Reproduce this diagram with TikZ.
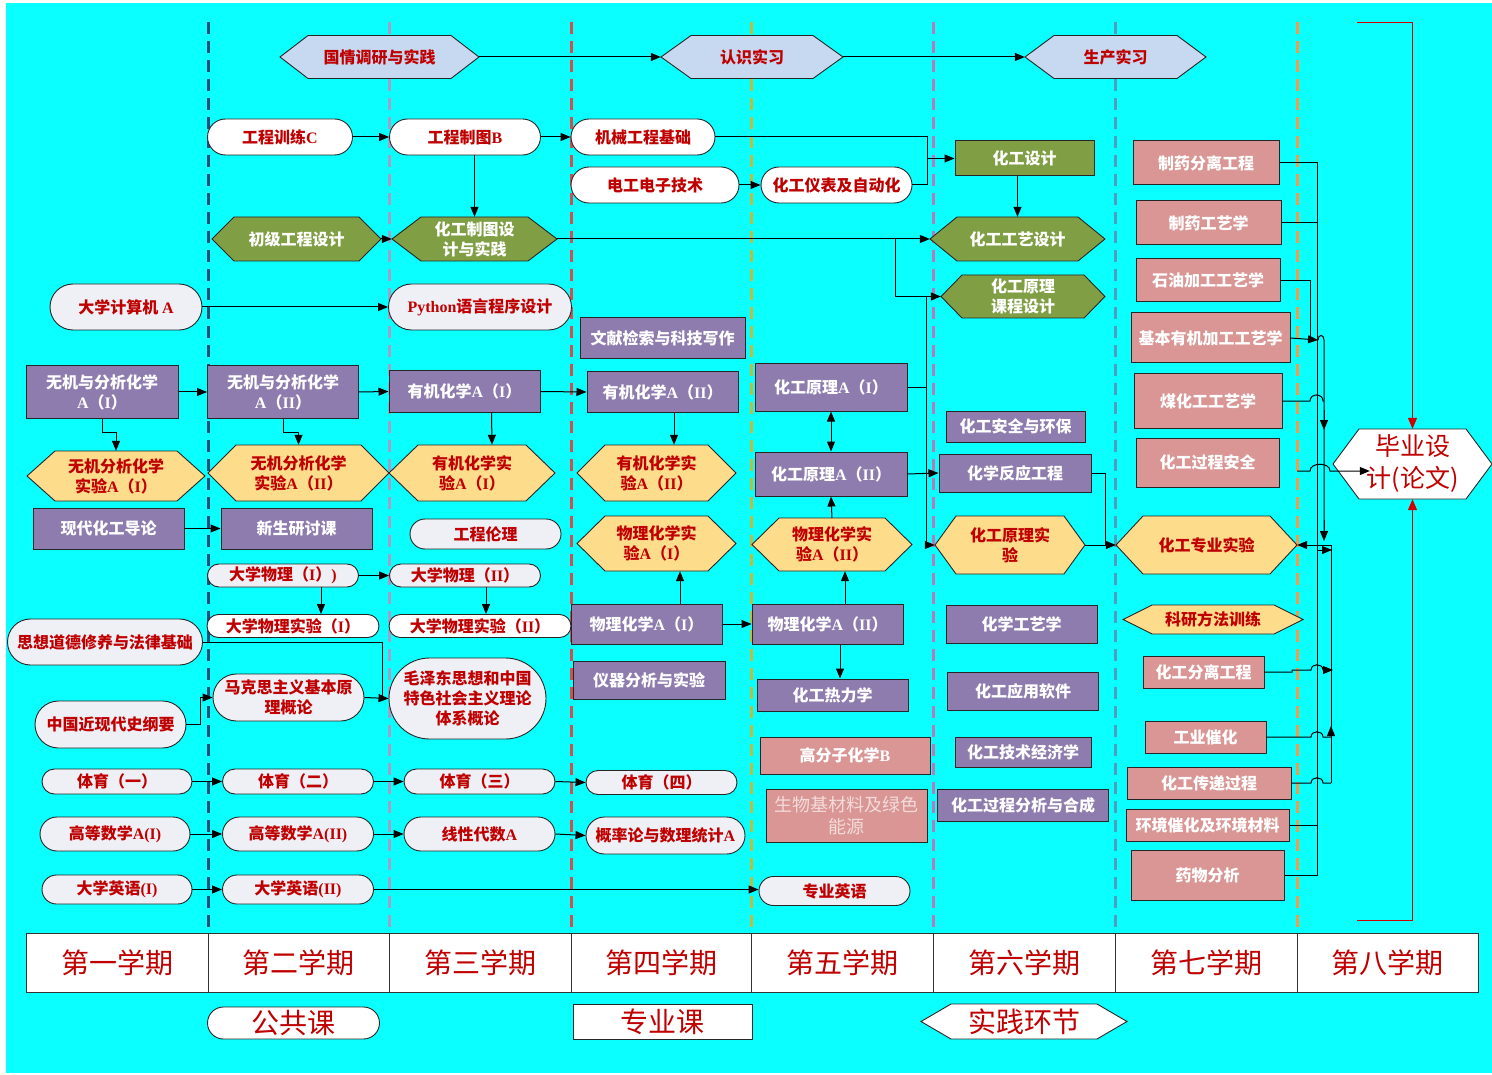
\documentclass[tikz,border=0pt]{standalone}
\usepackage{fontspec}
\setmainfont{Noto Sans CJK SC}
\newfontfamily\serf{Liberation Serif}
\usetikzlibrary{arrows.meta,shapes.misc,calc}
\definecolor{tred}{HTML}{C00000}
\definecolor{bgc}{HTML}{0AFFFF}
\definecolor{purp}{HTML}{8E7CAE}
\definecolor{oliv}{HTML}{809F45}
\definecolor{goldf}{HTML}{FDDC8B}
\definecolor{pinkb}{HTML}{D99694}
\definecolor{hblue}{HTML}{C6D9F1}
\definecolor{stg}{HTML}{EEF0F6}
\definecolor{swt}{HTML}{F2DCDB}
\definecolor{dA}{HTML}{1F4E79}
\definecolor{dB}{HTML}{A0A0C8}
\definecolor{dC}{HTML}{D05050}
\definecolor{dD}{HTML}{BDBD40}
\definecolor{dE}{HTML}{B47CBC}
\definecolor{dF}{HTML}{4F9EC2}
\definecolor{dG}{HTML}{F59A45}
\definecolor{rline}{HTML}{D00000}
\newcommand\latn[1]{{\serf\bfseries #1}}
\newcommand\tsz[2]{\fontsize{#1pt}{#2pt}\selectfont}
\newcommand\hexn[8]{%
  \path[#2 poly] ({#3-#5/2},#4) -- ({#3-#5/2+#7},{#4-#6/2}) -- ({#3+#5/2-#7},{#4-#6/2}) -- ({#3+#5/2},#4) -- ({#3+#5/2-#7},{#4+#6/2}) -- ({#3-#5/2+#7},{#4+#6/2}) -- cycle;
  \node[#2 text, minimum width=#5, minimum height=#6] (#1) at (#3,#4) {#8};}
\begin{document}
\begin{tikzpicture}[x=1pt,y=-1pt,
  base/.style={inner sep=0pt, align=center, font=\tsz{16}{20}\bfseries},
  sw/.style={base, rounded rectangle, draw=black!85, line width=0.9pt, fill=white, text=tred},
  sg/.style={sw, fill=stg},
  rp/.style={base, rectangle, draw=black!85, line width=1pt, fill=purp, text=white},
  rk/.style={rp, fill=pinkb},
  ro/.style={rp, fill=oliv},
  hb poly/.style={draw=black!85, line width=0.9pt, fill=hblue},
  hb text/.style={base, text=tred},
  ho poly/.style={draw=black!85, line width=0.9pt, fill=oliv},
  ho text/.style={base, text=white},
  hg poly/.style={draw=black!85, line width=0.9pt, fill=goldf},
  hg text/.style={base, text=tred},
  hw poly/.style={draw=black!85, line width=0.9pt, fill=white},
  hw text/.style={inner sep=0pt, align=center, text=tred, font=\tsz{25}{32}},
  hl text/.style={inner sep=0pt, align=center, text=tred, font=\tsz{28}{32}},
  sem/.style={rectangle, draw=black!80, line width=0.8pt, fill=white, text=tred, font=\tsz{28}{32}, minimum height=59, inner sep=0pt},
  ln/.style={draw=black, line width=1pt},
  arr/.style={ln, -{Triangle[length=10pt,width=8pt]}},
  darr/.style={ln, {Triangle[length=10pt,width=8pt]}-{Triangle[length=10pt,width=8pt]}},
  rarr/.style={draw=rline, line width=1pt, -{Triangle[length=11pt,width=9pt]}}]
\useasboundingbox (0,0) rectangle (1492,1075);
\fill[white] (0,0) rectangle (1492,1075);
\fill[bgc] (6,3) rectangle (1492,1073);
% semester dividers
\foreach \x/\c in {208/dA,389/dB,571/dC,751/dD,933/dE,1115/dF,1297/dG}
  \draw[draw=\c, line width=3pt, dash pattern=on 12pt off 7pt] (\x,22) -- (\x,933);

% ---- top practice row
\hexn{gq}{hb}{379.5}{57}{199}{43}{28}{国情调研与实践}
\hexn{rs}{hb}{752}{57}{182}{43}{30}{认识实习}
\hexn{sc}{hb}{1115.5}{57}{181}{43}{29}{生产实习}

% ---- stadium white
\node[sw, minimum width=145, minimum height=36] (gcxl) at (280,137) {工程训练\latn{C}};
\node[sw, minimum width=151, minimum height=36] (gczt) at (465,137) {工程制图\latn{B}};
\node[sw, minimum width=144, minimum height=36] (jxjc) at (643,137) {机械工程基础};
\node[sw, minimum width=168, minimum height=36] (dgdz) at (655,185) {电工电子技术};
\node[sw, minimum width=151, minimum height=36] (ybzd) at (836.5,185) {化工仪表及自动化};
\node[sw, minimum width=172, minimum height=23] (wsyA) at (293,626) {大学物理实验（\latn{I}）};
\node[sw, minimum width=182, minimum height=23] (wsyB) at (480,626) {大学物理实验（\latn{II}）};

% ---- stadium grey
\node[sg, minimum width=152, minimum height=46] (jsj) at (126,307) {大学计算机 \latn{A}};
\node[sg, minimum width=183, minimum height=46] (py) at (480,307) {\latn{Python}语言程序设计};
\node[sg, minimum width=151, minimum height=30] (lunli) at (485.5,534) {工程伦理};
\node[sg, minimum width=151, minimum height=23] (wl1) at (283,575.5) {大学物理（\latn{I}）\latn{)}};
\node[sg, minimum width=151, minimum height=23] (wl2) at (465,575.5) {大学物理（\latn{II}）};
\node[sg, minimum width=195, minimum height=46] (sxdd) at (105,642) {思想道德修养与法律基础};
\node[sg, minimum width=151, minimum height=47] (zgjx) at (110.5,724.5) {中国近现代史纲要};
\node[sg, minimum width=151, minimum height=47] (mks) at (288.5,697.5) {马克思主义基本原\\理概论};
\node[sg, minimum width=157, minimum height=81] (mzd) at (467.5,698.5) {毛泽东思想和中国\\特色社会主义理论\\体系概论};
\node[sg, minimum width=150, minimum height=25] (ty1) at (117,781.5) {体育（一）};
\node[sg, minimum width=151, minimum height=25] (ty2) at (298,781.5) {体育（二）};
\node[sg, minimum width=151, minimum height=25] (ty3) at (479.5,781.5) {体育（三）};
\node[sg, minimum width=151, minimum height=24] (ty4) at (661.5,782.5) {体育（四）};
\node[sg, minimum width=150, minimum height=34] (gs1) at (115,834) {高等数学\latn{A(I)}};
\node[sg, minimum width=151, minimum height=34] (gs2) at (298,834) {高等数学\latn{A(II)}};
\node[sg, minimum width=151, minimum height=34] (xd) at (479.5,834) {线性代数\latn{A}};
\node[sg, minimum width=159, minimum height=37] (gl) at (665.5,835.5) {概率论与数理统计\latn{A}};
\node[sg, minimum width=150, minimum height=29] (yy1) at (117,889.5) {大学英语\latn{(I)}};
\node[sg, minimum width=151, minimum height=29] (yy2) at (298,889.5) {大学英语\latn{(II)}};
\node[sg, minimum width=151, minimum height=29] (zyyy) at (834.5,891) {专业英语};

% ---- olive
\hexn{cjgc}{ho}{296.5}{239}{169}{44}{22}{初级工程设计}
\hexn{ztsj}{ho}{474.5}{239}{165}{44}{29}{化工制图设\\计与实践}
\hexn{gysj}{ho}{1017.5}{239}{175}{44}{27}{化工工艺设计}
\hexn{yljs}{ho}{1023}{296.5}{164}{43}{21}{化工原理\\课程设计}
\node[ro, minimum width=139, minimum height=35] (hgsj) at (1024.5,158.5) {化工设计};

% ---- purple
\node[rp, minimum width=152, minimum height=52] (wj1) at (102,392) {无机与分析化学\\\latn{A}（\latn{I}）};
\node[rp, minimum width=151, minimum height=52] (wj2) at (283,392) {无机与分析化学\\\latn{A}（\latn{II}）};
\node[rp, minimum width=151, minimum height=41] (yj1) at (464.5,391.5) {有机化学\latn{A}（\latn{I}）};
\node[rp, minimum width=151, minimum height=41] (xdhg) at (108.5,528.5) {现代化工导论};
\node[rp, minimum width=151, minimum height=41] (xsyt) at (296.5,528.5) {新生研讨课};
\node[rp, minimum width=165, minimum height=41] (wxjs) at (662.5,338.5) {文献检索与科技写作};
\node[rp, minimum width=151, minimum height=40] (yj2) at (662.5,392) {有机化学\latn{A}（\latn{II}）};
\node[rp, minimum width=151, minimum height=40] (wh1) at (646.5,624) {物理化学\latn{A}（\latn{I}）};
\node[rp, minimum width=151, minimum height=40] (wh2) at (827.5,624) {物理化学\latn{A}（\latn{II}）};
\node[rp, minimum width=152, minimum height=38] (yqfx) at (649,680) {仪器分析与实验};
\node[rp, minimum width=152, minimum height=47] (yl1) at (831,387.5) {化工原理\latn{A}（\latn{I}）};
\node[rp, minimum width=152, minimum height=44] (yl2) at (831,474) {化工原理\latn{A}（\latn{II}）};
\node[rp, minimum width=151, minimum height=32] (rlx) at (832.5,695) {化工热力学};
\node[rp, minimum width=139, minimum height=31] (aqhb) at (1015.5,426.5) {化工安全与环保};
\node[rp, minimum width=152, minimum height=38] (fygc) at (1015,473) {化学反应工程};
\node[rp, minimum width=151, minimum height=38] (hxgy) at (1021.5,624) {化学工艺学};
\node[rp, minimum width=151, minimum height=38] (yyrj) at (1023,691) {化工应用软件};
\node[rp, minimum width=136, minimum height=30] (jjx) at (1023,752) {化工技术经济学};
\node[rp, minimum width=171, minimum height=32] (fxhc) at (1023,805) {化工过程分析与合成};

% ---- gold hexagons
\hexn{wsy1}{hg}{116}{476}{178}{50}{28}{无机分析化学\\实验\latn{A}（\latn{I}）}
\hexn{wsy2}{hg}{298.5}{473}{181}{56}{28}{无机分析化学\\实验\latn{A}（\latn{II}）}
\hexn{ysy1}{hg}{472}{473}{166}{56}{29}{有机化学实\\验\latn{A}（\latn{I}）}
\hexn{ysy2}{hg}{656.5}{473}{159}{56}{28}{有机化学实\\验\latn{A}（\latn{II}）}
\hexn{wsy3}{hg}{656.5}{543.5}{159}{55}{28}{物理化学实\\验\latn{A}（\latn{I}）}
\hexn{wsy4}{hg}{832}{544.5}{160}{53}{27}{物理化学实\\验\latn{A}（\latn{II}）}
\hexn{ylsy}{hg}{1010}{545}{150}{58}{21}{化工原理实\\验}
\hexn{zysy}{hg}{1206.5}{545}{181}{58}{27}{化工专业实验}
\hexn{kyff}{hg}{1213}{619.5}{180}{29}{29}{科研方法训练}

% ---- pink
\node[rk, minimum width=146, minimum height=44] (zyfl) at (1206,163) {制药分离工程};
\node[rk, minimum width=145, minimum height=44] (zygy) at (1208.5,223) {制药工艺学};
\node[rk, minimum width=144, minimum height=43] (sygy) at (1208,280.5) {石油加工工艺学};
\node[rk, minimum width=159, minimum height=50] (jbyj) at (1210.5,338) {基本有机加工工艺学};
\node[rk, minimum width=148, minimum height=54] (mhg) at (1208,401) {煤化工工艺学};
\node[rk, minimum width=143, minimum height=49] (gcaq) at (1207.5,462.5) {化工过程安全};
\node[rk, minimum width=121, minimum height=32] (hgfl) at (1203.5,672) {化工分离工程};
\node[rk, minimum width=121, minimum height=32] (gych) at (1205.5,737) {工业催化};
\node[rk, minimum width=164, minimum height=32] (cdgc) at (1209,783) {化工传递过程};
\node[rk, minimum width=163, minimum height=32] (hjch) at (1207.5,825) {环境催化及环境材料};
\node[rk, minimum width=153, minimum height=50] (ywfx) at (1207.5,875) {药物分析};
\node[rk, minimum width=170, minimum height=37] (gfz) at (845,755.5) {高分子化学\latn{B}};
\node[rk, minimum width=161, minimum height=53, text=swt, font=\tsz{18}{22}\mdseries] (swj) at (846.5,815.5) {生物基材料及绿色\\能源};

% ---- graduation design
\hexn{bysj}{hw}{1412.5}{464}{159}{70}{26}{毕业设\\计(论文)}

% ---- semester table
\node[sem, minimum width=182] (s1) at (117,962.5) {第一学期};
\node[sem, minimum width=181] (s2) at (298.5,962.5) {第二学期};
\node[sem, minimum width=182] (s3) at (480,962.5) {第三学期};
\node[sem, minimum width=180] (s4) at (661,962.5) {第四学期};
\node[sem, minimum width=182] (s5) at (842,962.5) {第五学期};
\node[sem, minimum width=182] (s6) at (1024,962.5) {第六学期};
\node[sem, minimum width=182] (s7) at (1206,962.5) {第七学期};
\node[sem, minimum width=181] (s8) at (1387.5,962.5) {第八学期};

% ---- legend
\node[rounded rectangle, draw=black!85, line width=0.9pt, fill=white, text=tred, font=\tsz{28}{32}, inner sep=0pt, minimum width=172, minimum height=32] (lg1) at (293.5,1023) {公共课};
\node[rectangle, draw=black!85, line width=0.9pt, fill=white, text=tred, font=\tsz{28}{32}, inner sep=0pt, minimum width=179, minimum height=35] (lg2) at (662.5,1021.5) {专业课};
\hexn{lg3}{hw}{1024}{1021.5}{206}{35}{30}{}
\node[hl text] at (lg3) {实践环节};

% ---- connectors: top row
\draw[arr] (gq.east) -- (rs.west);
\draw[arr] (rs.east) -- (sc.west);
\draw[arr] (gcxl.east) -- (gczt.west);
\draw[arr] (gczt.east) -- (jxjc.west);
\draw[arr] (ztsj.north |- gczt.south) -- (ztsj.north);
\draw[arr] (cjgc.east) -- (ztsj.west);
\draw[arr] (jsj.east) -- (py.west);
\draw[arr] (dgdz.east) -- (ybzd.west);
\coordinate (j1) at (927,158.5);
\draw[ln] (jxjc.east) -| (j1);
\draw[ln] (ybzd.east) -| (j1);
\draw[arr] (j1) -- (hgsj.west);
\draw[arr] (gysj.north |- hgsj.south) -- (gysj.north);
\draw[arr] (ztsj.east) -- (gysj.west);
\coordinate (b1) at (895,239);
\draw[arr] (b1) |- (yljs.west);
\coordinate (b2) at (926,296.5);
\draw[arr] (b2) |- (ylsy.west);
\draw[ln] (yl1.east) -- (yl1.east -| b2);

% chemistry chain
\draw[arr] (wj1.east) -- (wj2.west);
\draw[arr] (wj2.east) -- (yj1.west);
\draw[arr] (yj1.east) -- (yj2.west);
\draw[arr] (wj1.south) -- ++(0,14) -| (wsy1.north);
\draw[arr] (wj2.south) -- ++(0,14) -| (wsy2.north);
\draw[arr] ($(yj1.south)+(27,0)$) -- ($(ysy1.north)+(20,0)$);
\draw[arr] ($(yj2.south)+(11.5,0)$) -- ($(ysy2.north)+(17.5,0)$);
\draw[arr] (xdhg.east) -- (xsyt.west);
\draw[arr] (wl1.east) -- (wl2.west);
\draw[arr] ($(wl1.south)+(38,0)$) -- ($(wsyA.north)+(28,0)$);
\draw[arr] ($(wl2.south)+(21,0)$) -- ($(wsyB.north)+(6,0)$);
\coordinate (j2) at (382,698.5);
\draw[ln] (sxdd.east) -| (j2);
\draw[arr] (mks.east) -- (mzd.west);
\draw[arr] (zgjx.east) -- ++(14,0) |- (mks.west);
\draw[arr] (ty1.east) -- (ty2.west);
\draw[arr] (ty2.east) -- (ty3.west);
\draw[arr] (ty3.east) -- (ty4.west);
\draw[arr] (gs1.east) -- (gs2.west);
\draw[arr] (gs2.east) -- (xd.west);
\draw[arr] (xd.east) -- (gl.west);
\draw[arr] (yy1.east) -- (yy2.west);
\draw[arr] (yy2.east) -- (yy2.east -| zyyy.west);
% physical chemistry
\draw[arr] ($(wh1.north)+(33.5,0)$) -- ($(wsy3.south)+(23.5,0)$);
\draw[arr] (wh1.east) -- (wh2.west);
\draw[arr] ($(wh2.north)+(17.5,0)$) -- ($(wsy4.south)+(13,0)$);
\draw[arr] (wsy4.north) -- (yl2.south);
\draw[darr] (yl1.south) -- (yl2.north);
\draw[arr] ($(wh2.south)+(12.5,0)$) -- ($(rlx.north)+(7.5,0)$);
\draw[arr] (yl2.east) -- (fygc.west);
\coordinate (j5) at (1105,545);
\draw[ln] (fygc.east) -| (j5);
\draw[arr] (ylsy.east) -- (zysy.west);

% ---- right side buses
\coordinate (bA) at (1317,875);
\draw[ln] (zyfl.east) -| (bA) -- (ywfx.east);
\draw[ln] (zygy.east) -- (zygy.east -| bA);
\draw[ln] (hjch.east) -- (hjch.east -| bA);
\coordinate (bB) at (1324,340);
\draw[ln] (sygy.east) -| (1310,340);
\draw[arr] (jbyj.east) -- (1318,340);
\draw[ln] (1318,340) .. controls (1318,334) and (1324,334) .. (bB) -- (1324,540);
\draw[arr] (1324,410) -- (1324,430);
\draw[arr] (1324,520) -- (1324,541);
\draw[ln] (mhg.east) -- (1310,401) .. controls (1310,393) and (1323,393) .. (1323,401) -- (1324,401);
\coordinate (q1) at (1297,471);
\coordinate (bC) at (1331,545);
\draw[arr] (bC) -- (zysy.east);
\draw[arr] (1317,550) -- (1332,550);
\draw[ln] (bC) -- (1331,783);
\draw[ln] (cdgc.east) -- (1311,783) .. controls (1311,776) and (1323,776) .. (1323,783) -- (1331,783);
\draw[ln] (gych.east) -- (1311,737) .. controls (1311,730) and (1323,730) .. (1323,737) -- (1331,737);
\draw[arr] (1331,745) -- (1331,726);
\draw[arr] (hgfl.east) -- (1292,672) -- (1292,670) -- (1311,670) .. controls (1311,663) and (1323,663) .. (1323,670) -- (1333,670);

% graduation links
\draw[arr] (q1) -- (1310,471) .. controls (1310,462) and (1330,462) .. (1330,471) -- ($(bysj.west)+(37,7)$);
\coordinate (rt1) at (1357,23);
\coordinate (rt2) at (1357,920);
\draw[rarr] (rt1) -| (bysj.north);
\draw[rarr] (rt2) -| (bysj.south);
\end{tikzpicture}
\end{document}
